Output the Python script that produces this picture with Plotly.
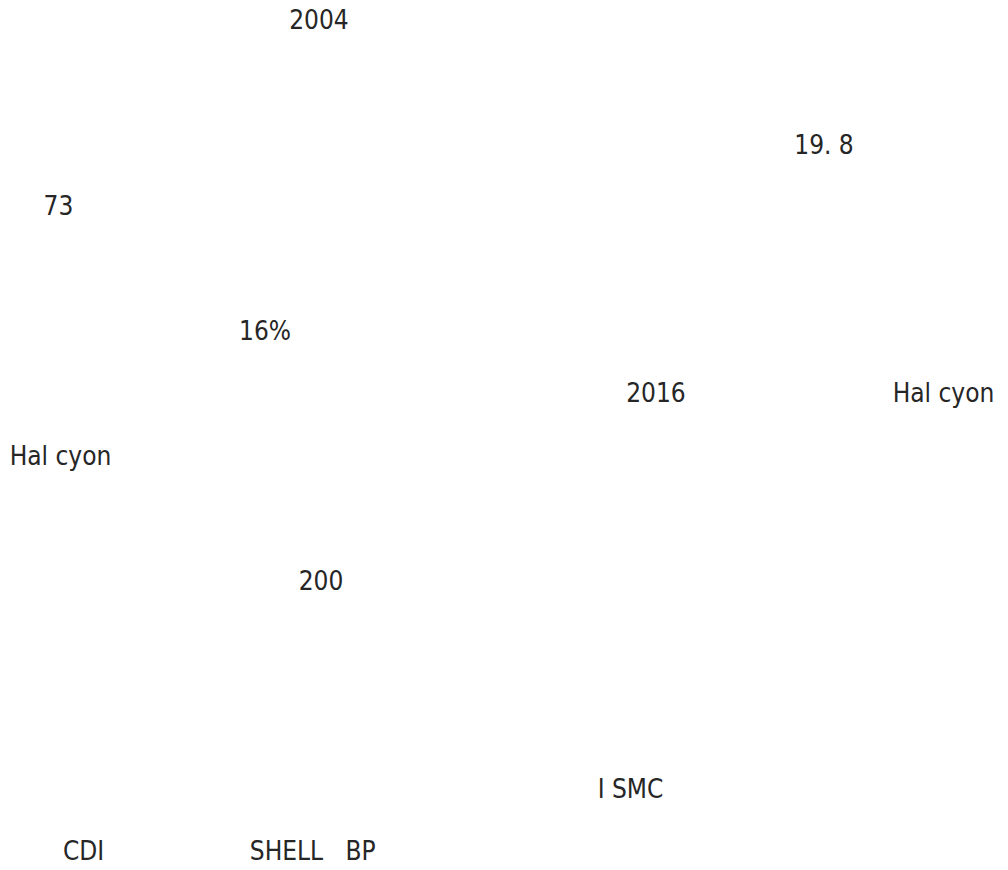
import plotly.graph_objects as go

# Text fragments visible in the reference (the CJK body text renders blank)
labels = ["2004", "19. 8", "73", "16%", "2016", "Hal cyon",
          "Hal cyon", "200", "I SMC", "CDI", "SHELL", "BP"]
# positions (pixel centre of each fragment on the 1008x870 page)
x_pos = [319, 824, 58.5, 265, 656, 943.5, 60.5, 321, 630.5, 83.5, 286.5, 360.5]
y_pos = [22, 147, 208, 333, 395, 395, 458, 583, 791, 853, 853, 853]

W, H = 1008, 870

fig = go.Figure()
fig.add_trace(go.Scatter(
    x=x_pos, y=y_pos, text=labels, mode="text",
    textposition="middle center",
    cliponaxis=False,
    textfont=dict(family="Liberation Sans Narrow, DejaVu Sans Condensed, Roboto, sans-serif",
                  size=26, color="#262626", weight=300),
    hoverinfo="skip", showlegend=False,
))
fig.update_xaxes(range=[0, W], visible=False, fixedrange=True)
fig.update_yaxes(range=[H, 0], visible=False, fixedrange=True)
fig.update_layout(
    width=W, height=H,
    margin=dict(l=0, r=0, t=0, b=0),
    paper_bgcolor="white", plot_bgcolor="white",
)
fig.write_html("out.html", config={"displayModeBar": False},
               post_script="document.body.style.margin='0';document.body.style.overflow='hidden';")
